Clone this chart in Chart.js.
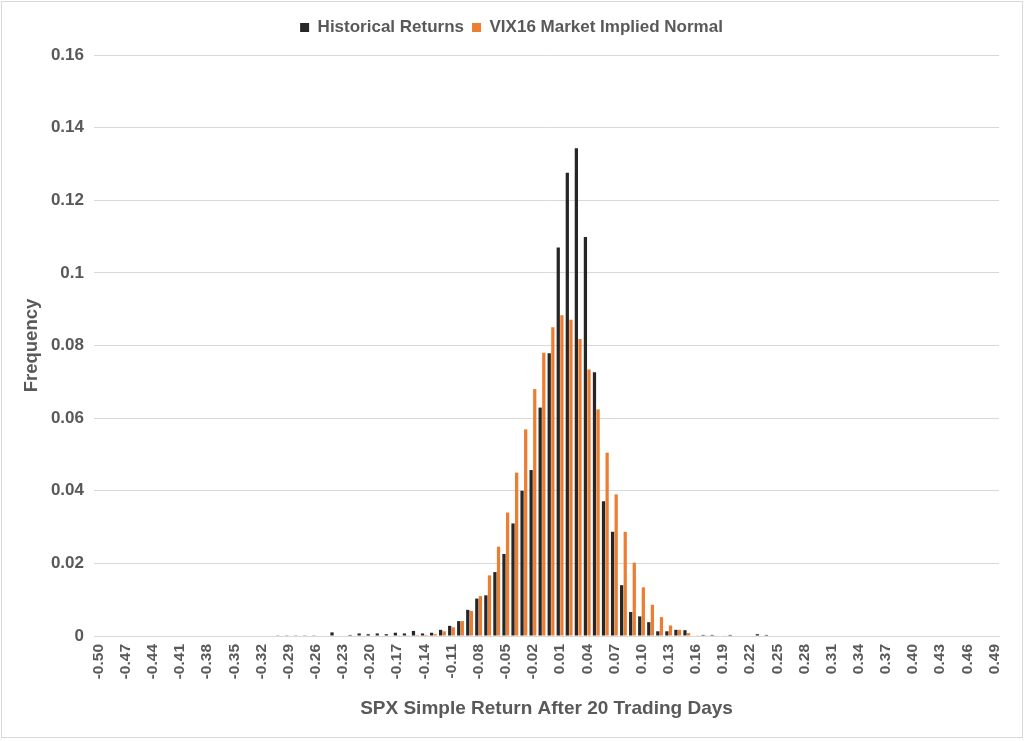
<!DOCTYPE html>
<html>
<head>
<meta charset="utf-8">
<script src="https://cdn.jsdelivr.net/npm/chart.js@4.4.1/dist/chart.umd.min.js"></script>
<style>
  body { margin: 0; background: #fff; }
  #wrap { position: relative; width: 1024px; height: 741px; }
  #mycanvas { position: absolute; left: 0; top: 0; }
  #frame { position: absolute; left: 1px; top: 1px; width: 1020px; height: 735px;
           border: 1px solid #d9d9d9; pointer-events: none; }
</style>
</head>
<body>
<div id="wrap">
  <canvas id="mycanvas" width="1024" height="741"></canvas>
  <div id="frame"></div>
</div>
<script>
var returns = [
  "-0.50","-0.49","-0.48","-0.47","-0.46","-0.45","-0.44","-0.43","-0.42","-0.41",
  "-0.40","-0.39","-0.38","-0.37","-0.36","-0.35","-0.34","-0.33","-0.32","-0.31",
  "-0.30","-0.29","-0.28","-0.27","-0.26","-0.25","-0.24","-0.23","-0.22","-0.21",
  "-0.20","-0.19","-0.18","-0.17","-0.16","-0.15","-0.14","-0.13","-0.12","-0.11",
  "-0.10","-0.09","-0.08","-0.07","-0.06","-0.05","-0.04","-0.03","-0.02","-0.01",
  "0.00","0.01","0.02","0.03","0.04","0.05","0.06","0.07","0.08","0.09",
  "0.10","0.11","0.12","0.13","0.14","0.15","0.16","0.17","0.18","0.19",
  "0.20","0.21","0.22","0.23","0.24","0.25","0.26","0.27","0.28","0.29",
  "0.30","0.31","0.32","0.33","0.34","0.35","0.36","0.37","0.38","0.39",
  "0.40","0.41","0.42","0.43","0.44","0.45","0.46","0.47","0.48","0.49"
];

var historical = [
  0,0,0,0,0,0,0,0,0,0,
  0,0,0,0,0,0,0,0,0,0,
  0.0002,0.0002,0.0002,0.0002,0.0002,0,0.0010,0,0.0003,0.0007,
  0.0005,0.0007,0.0005,0.0009,0.0007,0.0014,0.0007,0.0009,0.0017,0.0028,
  0.0041,0.0072,0.0103,0.0112,0.0176,0.0226,0.0310,0.0400,0.0457,0.0629,
  0.0779,0.1070,0.1276,0.1343,0.1099,0.0726,0.0371,0.0287,0.0140,0.0066,
  0.0054,0.0038,0.0013,0.0013,0.0017,0.0016,0,0.0003,0.0003,0,
  0.0003,0,0,0.0005,0.0003,0,0,0,0,0,
  0,0,0,0,0,0,0,0,0,0,
  0,0,0,0,0,0,0,0,0,0
];

var vix16 = [
  0,0,0,0,0,0,0,0,0,0,
  0,0,0,0,0,0,0,0,0,0,
  0,0,0,0,0,0,0,0,0,0,
  0,0,0,0.0002,0.0002,0.0003,0.0003,0.0005,0.0013,0.0024,
  0.0041,0.0069,0.0110,0.0167,0.0246,0.0340,0.0450,0.0569,0.0680,0.0780,
  0.0850,0.0883,0.0871,0.0818,0.0734,0.0624,0.0505,0.0390,0.0287,0.0202,
  0.0134,0.0086,0.0052,0.0029,0.0017,0.0008,0.0002,0.0002,0.0001,0.0001,
  0,0,0,0,0,0,0,0,0,0,
  0,0,0,0,0,0,0,0,0,0,
  0,0,0,0,0,0,0,0,0,0
];

var textGrey = '#595959';
var fontFamily = 'Liberation Sans, Arial, sans-serif';

var chartdata = {
  labels: returns,
  datasets: [
    {
      label: 'Historical Returns',
      backgroundColor: '#262626',
      data: historical
    },
    {
      label: 'VIX16 Market Implied Normal',
      backgroundColor: '#ED7D31',
      data: vix16
    }
  ]
};

// legend: a bit more room underneath, and centred on the page rather than the canvas minus padding
var legendSpace = {
  id: 'legendSpace',
  beforeInit: function (chart) {
    var fit = chart.legend.fit;
    chart.legend.fit = function () {
      fit.call(this);
      this.height += 9;
    };
  },
  afterLayout: function (chart) {
    chart.legend.left += 12;
    chart.legend.right += 12;
  }
};

var ctx = document.getElementById('mycanvas');

var barGraph = new Chart(ctx, {
  type: 'bar',
  data: chartdata,
  plugins: [legendSpace],
  options: {
    responsive: false,
    animation: false,
    devicePixelRatio: 1,
    layout: { padding: { left: 0, right: 25, top: 11, bottom: 0 } },
    datasets: { bar: { categoryPercentage: 0.8, barPercentage: 0.9 } },
    plugins: {
      legend: {
        position: 'top',
        labels: {
          boxWidth: 9,
          boxHeight: 9,
          padding: 8,
          color: textGrey,
          font: { family: fontFamily, size: 17, weight: 'bold' }
        }
      },
      tooltip: { enabled: false }
    },
    scales: {
      x: {
        grid: { display: false, drawTicks: false },
        border: { display: true, color: '#d9d9d9' },
        ticks: {
          autoSkip: false,
          maxRotation: 90,
          minRotation: 90,
          padding: 8,
          color: textGrey,
          font: { family: fontFamily, size: 15.5, weight: 'bold' },
          callback: function (val, idx) {
            return idx % 3 === 0 ? this.getLabelForValue(val) : '';
          }
        },
        title: {
          display: true,
          text: 'SPX Simple Return After 20 Trading Days',
          color: textGrey,
          padding: { top: 0, bottom: 21 },
          font: { family: fontFamily, size: 19, weight: 'bold' }
        },
        afterFit: function (scale) { scale.height = 105; }
      },
      y: {
        min: 0,
        max: 0.16,
        grid: { color: '#d9d9d9', drawTicks: false },
        border: { display: false },
        ticks: {
          stepSize: 0.02,
          padding: 10,
          color: textGrey,
          font: { family: fontFamily, size: 17, weight: 'bold' },
          callback: function (v) { return String(+v.toFixed(2)); }
        },
        title: {
          display: true,
          text: 'Frequency',
          color: textGrey,
          padding: { top: 21, bottom: 0 },
          font: { family: fontFamily, size: 18.5, weight: 'bold' }
        },
        afterFit: function (scale) { scale.width = 94; }
      }
    }
  }
});
</script>
</body>
</html>
